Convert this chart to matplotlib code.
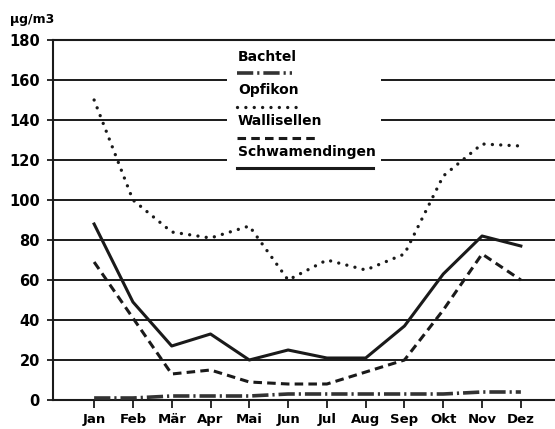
import matplotlib
matplotlib.use("Agg")
import matplotlib.pyplot as plt
from matplotlib.lines import Line2D
from matplotlib.patches import Rectangle

# Monatsmittel (ug/m3)
months = ["Jan", "Feb", "Mär", "Apr", "Mai", "Jun", "Jul", "Aug", "Sep", "Okt", "Nov", "Dez"]
bachtel = [1, 1, 2, 2, 2, 3, 3, 3, 3, 3, 4, 4]
opfikon = [150, 100, 84, 81, 87, 60, 70, 65, 73, 112, 128, 127]
wallisellen = [69, 41, 13, 15, 9, 8, 8, 14, 20, 45, 73, 60]
schwamendingen = [88, 49, 27, 33, 20, 25, 21, 21, 37, 63, 82, 77]
yticks = list(range(0, 181, 20))

plt.rcParams["font.family"] = ["DejaVu Sans"]
plt.rcParams["font.weight"] = "bold"

W, H = 555, 429
fig = plt.figure(figsize=(W / 100, H / 100), dpi=100)
ax = fig.add_axes([53 / W, 1 - 400 / H, 502 / W, 360 / H])

styles = {
    "Bachtel": dict(color="#333333", lw=2.6, linestyle=(0, (4.5, 1.1, 0.6, 1.1))),
    "Opfikon": dict(color="#1a1a1a", lw=2.4, linestyle=(0, (0.01, 2.5)), dash_capstyle="round"),
    "Wallisellen": dict(color="#1a1a1a", lw=2.2, linestyle=(0, (2.8, 1.7))),
    "Schwamendingen": dict(color="#1a1a1a", lw=2.2, linestyle="-"),
}
series = {
    "Bachtel": bachtel,
    "Opfikon": opfikon,
    "Wallisellen": wallisellen,
    "Schwamendingen": schwamendingen,
}

x = list(range(len(months)))
for name, vals in series.items():
    ax.plot(x, vals, zorder=3, **styles[name])

ax.set_xlim(-1.06, 11.88)
ax.set_ylim(0, 180)
ax.set_yticks(yticks)
ax.set_xticks(x)
ax.set_xticklabels(months)
ax.grid(axis="y", color="#1a1a1a", lw=1.4)
ax.set_axisbelow(True)
ax.tick_params(axis="y", length=4.5, width=1.3, pad=5, labelsize=10.5, color="#1a1a1a")
ax.tick_params(axis="x", length=5.5, width=1.3, pad=4, labelsize=9.5, color="#1a1a1a")
for lab in ax.get_xticklabels() + ax.get_yticklabels():
    lab.set_fontweight("bold")
ax.spines["right"].set_visible(False)
for s in ["left", "bottom", "top"]:
    ax.spines[s].set_linewidth(1.5)
    ax.spines[s].set_color("#1a1a1a")


def ax_px(px, py):
    return ((px - 53) / 502, (400 - py) / 360)


# Legende (Beschriftung ueber der Linie), weisser Hintergrund
bx0, by0 = ax_px(227, 176)
bx1, by1 = ax_px(381, 45)
ax.add_patch(Rectangle((bx0, by0), bx1 - bx0, by1 - by0, transform=ax.transAxes,
                       facecolor="white", edgecolor="none", zorder=2))
legend_rows = [
    ("Bachtel", 57, 73, 292),
    ("Opfikon", 90, 107, 296),
    ("Wallisellen", 121, 138, 317),
    ("Schwamendingen", 152, 168, 373),
]
for name, ty, ly, lx1 in legend_rows:
    tx, tyy = ax_px(238, ty)
    ax.text(tx, tyy, name, transform=ax.transAxes, fontsize=10, fontweight="bold",
            va="center", ha="left", zorder=4)
    x0, y0 = ax_px(237, ly)
    x1, _ = ax_px(lx1, ly)
    ax.add_line(Line2D([x0, x1], [y0, y0], transform=ax.transAxes, zorder=4, **styles[name]))

fig.text(10 / W, 1 - 19 / H, "µg/m3", fontsize=9, fontweight="bold", va="center", ha="left")

fig.savefig("out.png", dpi=100)
